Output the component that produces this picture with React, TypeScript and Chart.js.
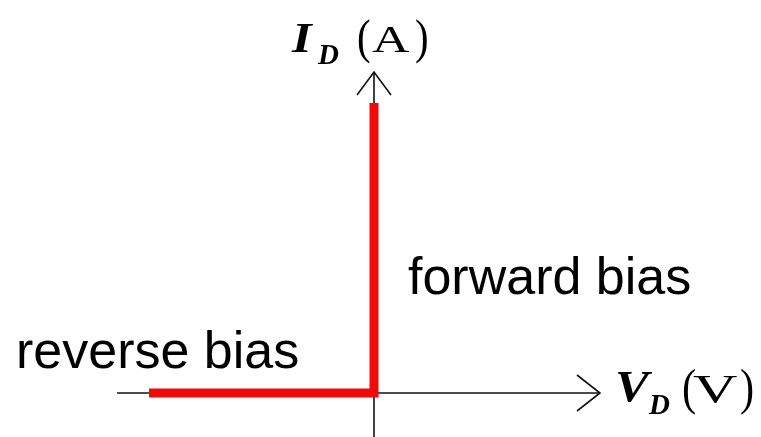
import React, { useEffect, useRef } from "react";
import { Chart, registerables } from "chart.js";

Chart.register(...registerables);

// Ideal diode characteristic (arbitrary units; origin at V_D = 0, I_D = 0)
const diodeV = [-2.25, 0, 0];
const diodeI = [0, 0, 2.9];

// Axes (V_D horizontal, I_D vertical) with arrow heads
const vAxisV = [-2.57, 2.26];
const vAxisI = [0, 0];
const vArrowV = [2.03, 2.26, 2.03];
const vArrowI = [0.18, 0, -0.18];
const iAxisV = [0, 0];
const iAxisI = [-0.44, 3.21];
const iArrowV = [-0.17, 0, 0.17];
const iArrowI = [2.98, 3.21, 2.98];

const xLabel = ["V", "D", "V"];
const yLabel = ["I", "D", "A"];
const forwardLabel = "forward bias";
const reverseLabel = "reverse bias";

const pts = (xs: number[], ys: number[]) => xs.map((x, i) => ({ x, y: ys[i] }));

type Glyph = { t: string; font: string; x: number; y: number; sx: number };

const textPlugin = {
  id: "diodeText",
  afterDatasetsDraw(chart: any) {
    const ctx = chart.ctx as CanvasRenderingContext2D;
    const xs = chart.scales.x;
    const ys = chart.scales.y;
    const ox = xs.getPixelForValue(0);
    const oy = ys.getPixelForValue(0);
    const serif = "'Liberation Serif', 'Times New Roman', serif";
    const sans = "'Liberation Sans', Arial, sans-serif";
    const glyphs: Glyph[] = [
      // I_D (A)  (relative to origin)
      { t: yLabel[0], font: `bold italic 42px ${serif}`, x: ox - 82, y: oy - 341, sx: 1.2 },
      { t: yLabel[1], font: `bold italic 29px ${serif}`, x: ox - 56, y: oy - 329, sx: 1.0 },
      { t: "(", font: `48px ${serif}`, x: ox - 17, y: oy - 340, sx: 0.85 },
      { t: yLabel[2], font: `37px ${serif}`, x: ox - 2, y: oy - 341, sx: 1.4 },
      { t: ")", font: `48px ${serif}`, x: ox + 41, y: oy - 340, sx: 0.85 },
      // V_D (V)
      { t: xLabel[0], font: `bold italic 44px ${serif}`, x: ox + 241, y: oy + 8, sx: 1.15 },
      { t: xLabel[1], font: `bold italic 29px ${serif}`, x: ox + 275, y: oy + 21, sx: 1.0 },
      { t: "(", font: `50px ${serif}`, x: ox + 308, y: oy + 11, sx: 0.85 },
      { t: xLabel[2], font: `41px ${serif}`, x: ox + 319, y: oy + 9, sx: 1.5 },
      { t: ")", font: `50px ${serif}`, x: ox + 366, y: oy + 11, sx: 0.85 },
      // bias labels
      { t: forwardLabel, font: `52px ${sans}`, x: ox + 34, y: oy - 99, sx: 1 },
      { t: reverseLabel, font: `52px ${sans}`, x: ox - 358, y: oy - 25, sx: 1 },
    ];
    ctx.save();
    ctx.fillStyle = "#000";
    ctx.textAlign = "left";
    ctx.textBaseline = "alphabetic";
    for (const g of glyphs) {
      ctx.save();
      ctx.font = g.font;
      ctx.translate(g.x, g.y);
      ctx.scale(g.sx, 1);
      ctx.fillText(g.t, 0, 0);
      ctx.restore();
    }
    ctx.restore();
  },
};

export default function App() {
  const ref = useRef<HTMLCanvasElement | null>(null);

  useEffect(() => {
    if (!ref.current) return;
    const axisStyle = {
      showLine: true,
      borderColor: "#111",
      borderWidth: 1.6,
      pointRadius: 0,
      fill: false,
      tension: 0,
      clip: false as any,
    };
    const chart = new Chart(ref.current, {
      type: "scatter",
      data: {
        datasets: [
          {
            label: "I-V",
            data: pts(diodeV, diodeI),
            showLine: true,
            borderColor: "#f00a0a",
            borderWidth: 9,
            borderJoinStyle: "miter",
            borderCapStyle: "butt",
            pointRadius: 0,
            fill: false,
            tension: 0,
            order: 0,
            clip: false as any,
          },
          { label: "vAxis", data: pts(vAxisV, vAxisI), ...axisStyle, order: 1 },
          { label: "vArrow", data: pts(vArrowV, vArrowI), ...axisStyle, order: 1 },
          { label: "iAxis", data: pts(iAxisV, iAxisI), ...axisStyle, order: 1 },
          { label: "iArrow", data: pts(iArrowV, iArrowI), ...axisStyle, order: 1 },
        ],
      },
      options: {
        animation: false,
        responsive: false,
        maintainAspectRatio: false,
        devicePixelRatio: 1,
        layout: { padding: 0 },
        plugins: { legend: { display: false }, tooltip: { enabled: false } },
        scales: {
          x: { type: "linear", min: -3.74, max: 3.87, display: false },
          y: { type: "linear", min: -0.44, max: 3.93, display: false },
        },
      },
      plugins: [textPlugin],
    });
    return () => chart.destroy();
  }, []);

  return (
    <div style={{ position: "fixed", left: 0, top: 0, width: 761, height: 437, background: "#fff" }}>
      <canvas ref={ref} width={761} height={437} style={{ width: 761, height: 437, display: "block" }} />
    </div>
  );
}
